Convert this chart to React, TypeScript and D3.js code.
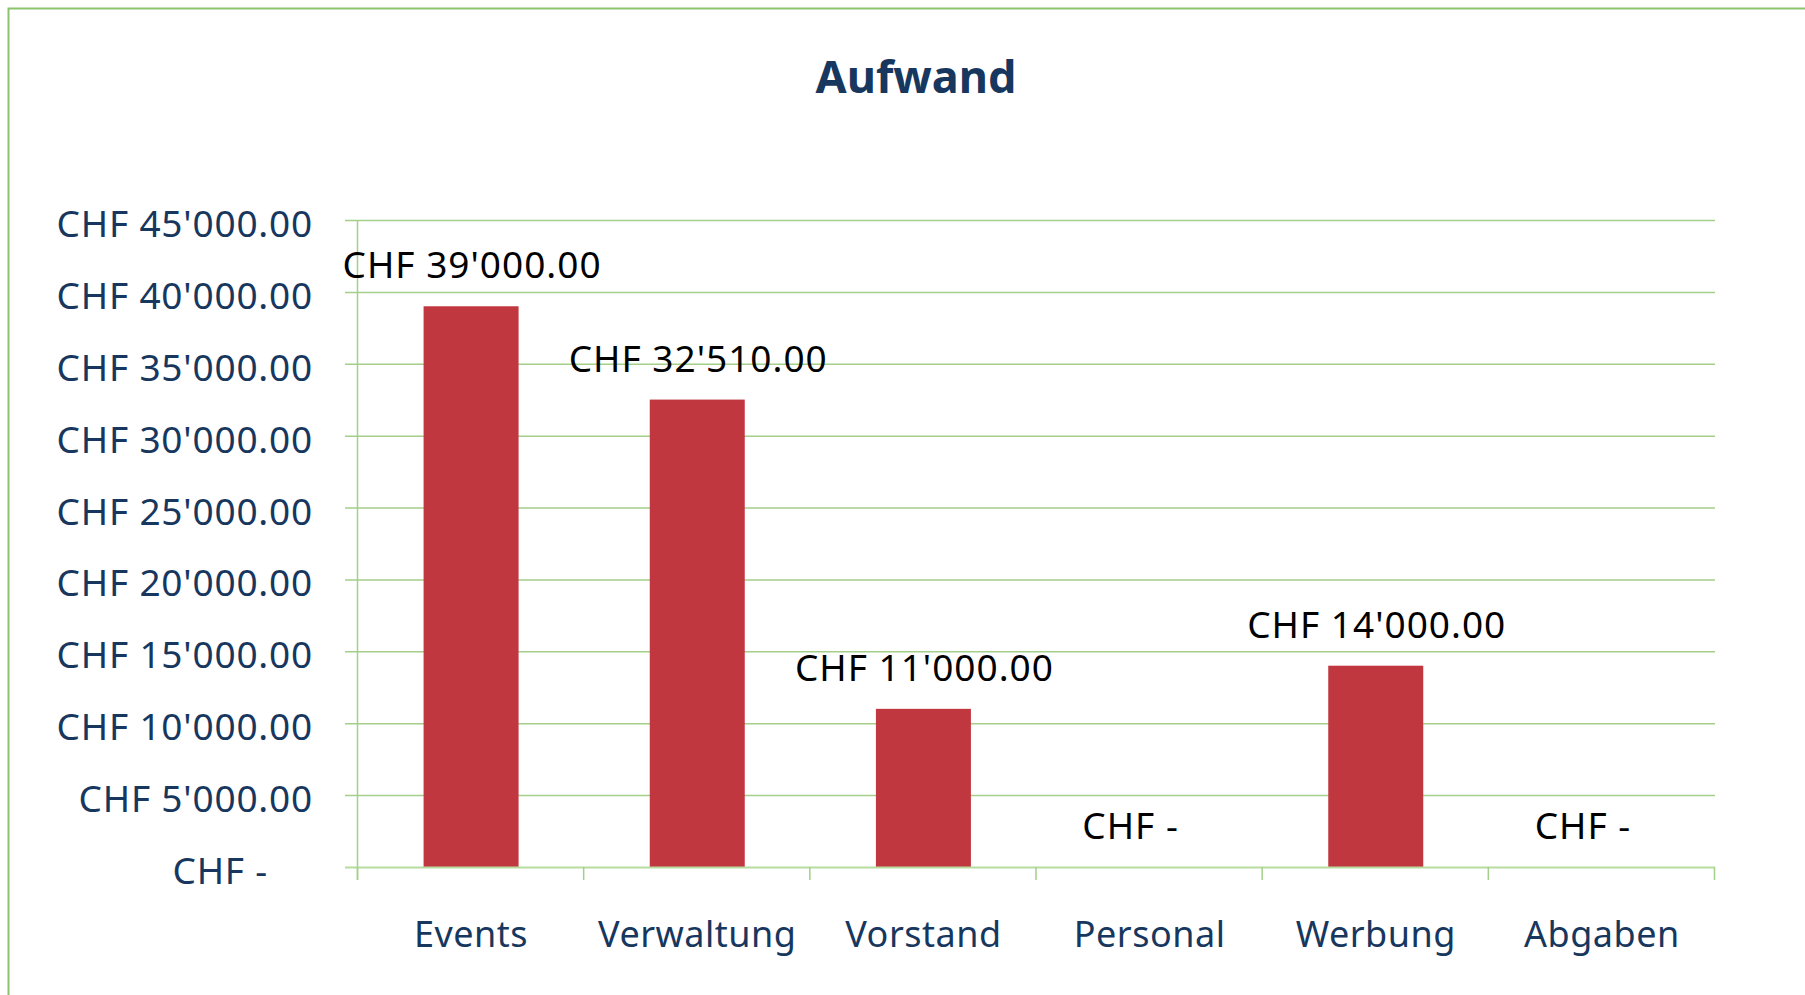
import { useEffect, useRef } from 'react'
import * as d3 from 'd3'

const categories = ['Events', 'Verwaltung', 'Vorstand', 'Personal', 'Werbung', 'Abgaben']
const values = [39000, 32510, 11000, 0, 14000, 0]
const yTicks = [0, 5000, 10000, 15000, 20000, 25000, 30000, 35000, 40000, 45000]
const title = 'Aufwand'

const fmtNum = (v: number) => {
  const s = d3.format(',.2f')(v)
  return s.replace(/,/g, "'")
}
const fmtCHF = (v: number) => (v === 0 ? 'CHF -' : `CHF ${fmtNum(v)}`)

export default function App() {
  const svgRef = useRef<SVGSVGElement>(null)

  useEffect(() => {
    if (!svgRef.current) return
    const W = 1805
    const H = 995
    const svg = d3.select(svgRef.current)
    svg.selectAll('*').remove()
    svg.attr('width', W).attr('height', H)

    const grid = '#a3cf8a'
    const textBlue = '#17375e'
    const font = '"Noto Sans", "Open Sans", sans-serif'

    // outer chart border (runs off the page on right and bottom)
    svg.append('rect')
      .attr('x', 8.5).attr('y', 8.5)
      .attr('width', W).attr('height', H)
      .attr('fill', 'white')
      .attr('stroke', '#8cc46e')
      .attr('stroke-width', 2)

    svg.append('text')
      .attr('x', 916).attr('y', 93)
      .attr('text-anchor', 'middle')
      .style('font-family', font)
      .style('font-weight', 'bold')
      .style('font-size', '45px')
      .style('fill', textBlue)
      .text(title)

    const left = 358, right = 1715, top = 220, bottom = 867

    const x = d3.scaleBand().domain(categories).range([left, right]).paddingInner(0.58).paddingOuter(0.29)
    const band = d3.scaleBand().domain(categories).range([left, right])
    const y = d3.scaleLinear().domain([0, 45000]).range([bottom, top])

    // gridlines
    svg.append('g')
      .selectAll('line')
      .data(yTicks.filter(d => d > 0))
      .enter().append('line')
      .attr('x1', left - 13).attr('x2', right)
      .attr('y1', d => y(d) + 0.5).attr('y2', d => y(d) + 0.5)
      .attr('stroke', grid)
      .attr('stroke-width', 1.5)

    // y axis line
    svg.append('line')
      .attr('x1', left - 0.5).attr('x2', left - 0.5)
      .attr('y1', top).attr('y2', bottom + 13)
      .attr('stroke', grid).attr('stroke-width', 1.5)

    // y tick labels
    svg.append('g')
      .selectAll('text')
      .data(yTicks)
      .enter().append('text')
      .attr('x', d => (d === 0 ? 268 : 313))
      .attr('y', d => y(d) + 17)
      .attr('text-anchor', 'end')
      .style('font-family', font)
      .style('font-size', '37px')
      .style('letter-spacing', '0.8px')
      .style('fill', textBlue)
      .text(d => fmtCHF(d))

    // bars
    svg.append('g')
      .selectAll('rect')
      .data(values)
      .enter().append('rect')
      .attr('x', (d, i) => x(categories[i])!)
      .attr('width', x.bandwidth())
      .attr('y', d => y(d))
      .attr('height', d => bottom - y(d))
      .attr('fill', '#c0373f')

    // x axis line and category ticks
    svg.append('line')
      .attr('x1', left - 13).attr('x2', right)
      .attr('y1', bottom + 0.5).attr('y2', bottom + 0.5)
      .attr('stroke', '#b6dca0').attr('stroke-width', 2)

    svg.append('g')
      .selectAll('line')
      .data(categories.map(c => band(c)! + band.bandwidth()).concat([left]))
      .enter().append('line')
      .attr('x1', d => d - 0.5).attr('x2', d => d - 0.5)
      .attr('y1', bottom).attr('y2', bottom + 13)
      .attr('stroke', grid).attr('stroke-width', 1.5)

    // category labels
    svg.append('g')
      .selectAll('text')
      .data(categories)
      .enter().append('text')
      .attr('x', d => band(d)! + band.bandwidth() / 2)
      .attr('y', 947)
      .attr('text-anchor', 'middle')
      .style('font-family', font)
      .style('font-size', '36px')
      .style('letter-spacing', '0.5px')
      .style('fill', textBlue)
      .text(d => d)

    // data labels
    svg.append('g')
      .selectAll('text')
      .data(values)
      .enter().append('text')
      .attr('x', (d, i) => band(categories[i])! + band.bandwidth() / 2 + (d === 0 ? -19 : 1))
      .attr('y', d => y(d) - 28)
      .attr('text-anchor', 'middle')
      .style('font-family', font)
      .style('font-size', '37px')
      .style('letter-spacing', '1px')
      .style('fill', '#000')
      .text(d => fmtCHF(d))
  }, [])

  return (
    <div style={{ position: 'absolute', left: 0, top: 0, width: 1805, height: 995, overflow: 'hidden' }}>
      <svg ref={svgRef} style={{ display: 'block' }}></svg>
    </div>
  )
}
